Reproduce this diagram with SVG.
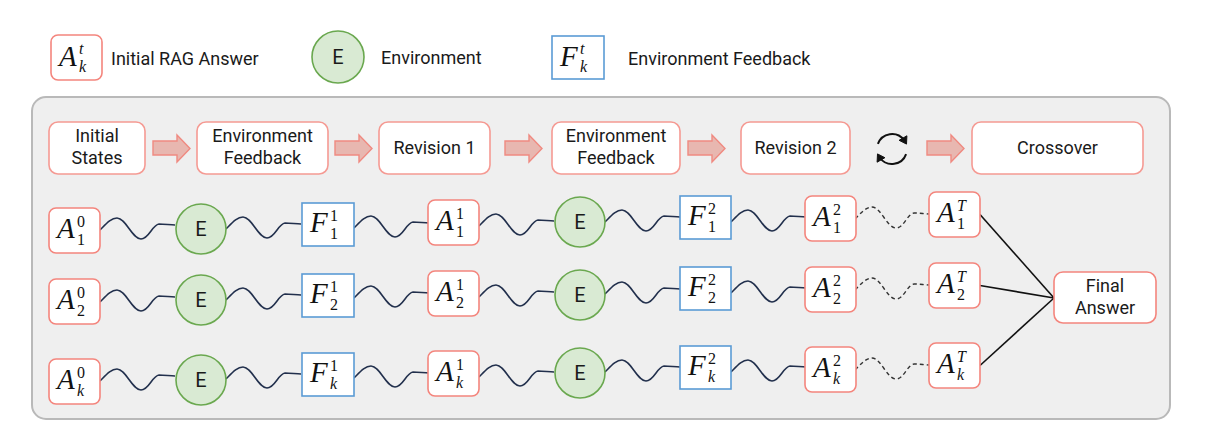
<svg xmlns="http://www.w3.org/2000/svg" xmlns:xlink="http://www.w3.org/1999/xlink" width="1206" height="442" viewBox="0 0 1206 442">
<style>
.bg{fill:#ffffff}
.panel{fill:#efefef;stroke:#b9b9b9;stroke-width:2}
.ans{fill:#ffffff;stroke:#f4857d;stroke-width:1.6}
.stage{fill:#ffffff;stroke:#f59a93;stroke-width:1.6}
.env{fill:#d9ead3;stroke:#6aa84f;stroke-width:1.6}
.fb{fill:#ffffff;stroke:#5b9bd5;stroke-width:1.6}
.lbl{font-family:Roboto,"Liberation Sans",sans-serif;font-size:18px;fill:#1a1a1a}
.big{font-size:20px}
.ctr{text-anchor:middle}
.mi{font-family:"Liberation Serif","DejaVu Serif",serif;font-style:italic;font-size:29px;fill:#111}
.sc{font-family:"Liberation Serif","DejaVu Serif",serif;font-size:16px;fill:#111}
.it{font-style:italic}
.wave{fill:none;stroke:#22304d;stroke-width:1.6}
.dash{fill:none;stroke:#333;stroke-width:1.4;stroke-dasharray:4 3}
.line{fill:none;stroke:#111;stroke-width:1.6}
.blk{fill:#e8b7b0;stroke:#f08a81;stroke-width:1.4}
.cyc{fill:none;stroke:#111;stroke-width:2}
.cyh{fill:#111;stroke:#111;stroke-width:1;stroke-linejoin:round}
</style>
<defs>
<polygon id="barrow" class="blk" points="0,6 24,6 24,0 37,13.5 24,27 24,20 0,20"/>
</defs>
<rect class="bg" x="0" y="0" width="1206" height="442"/>

<g id="legend">
<g id="legend-answer">
<rect class="ans" x="51" y="35" width="51" height="45" rx="7"/>
<text class="mi" x="59" y="66">A</text><text class="sc it" x="79" y="54">t</text><text class="sc it" x="79" y="72">k</text>
<text class="lbl" x="111" y="65">Initial RAG Answer</text>
</g>
<g id="legend-env">
<circle class="env" cx="338" cy="57" r="26"/>
<text class="lbl big ctr" x="338" y="64">E</text>
<text class="lbl" x="381" y="64">Environment</text>
</g>
<g id="legend-feedback">
<rect class="fb" x="552" y="36" width="52" height="43"/>
<text class="mi" x="560" y="66">F</text><text class="sc it" x="580" y="54">t</text><text class="sc it" x="580" y="72">k</text>
<text class="lbl" x="628" y="65">Environment Feedback</text>
</g>
</g>

<rect id="panel" class="panel" x="32" y="97" width="1138" height="322" rx="14"/>

<g id="stages">
<g id="stage-initial"><rect class="stage" x="49" y="122" width="96" height="52" rx="9"/><text class="lbl ctr" x="97" y="142">Initial</text><text class="lbl ctr" x="97" y="164">States</text></g>
<g id="stage-feedback1"><rect class="stage" x="197" y="122" width="131" height="52" rx="9"/><text class="lbl ctr" x="262.5" y="142">Environment</text><text class="lbl ctr" x="262.5" y="164">Feedback</text></g>
<g id="stage-rev1"><rect class="stage" x="379" y="122" width="111" height="52" rx="9"/><text class="lbl ctr" x="434.5" y="154">Revision 1</text></g>
<g id="stage-feedback2"><rect class="stage" x="552" y="122" width="128" height="52" rx="9"/><text class="lbl ctr" x="616" y="142">Environment</text><text class="lbl ctr" x="616" y="164">Feedback</text></g>
<g id="stage-rev2"><rect class="stage" x="741" y="122" width="109" height="52" rx="9"/><text class="lbl ctr" x="795.5" y="154">Revision 2</text></g>
<g id="stage-crossover"><rect class="stage" x="972" y="122" width="171" height="52" rx="9"/><text class="lbl ctr" x="1057.5" y="154">Crossover</text></g>
<g id="cycle-icon">
<path class="cyc" d="M877.9,143.9 A15,15 0 0 1 904,140"/>
<polygon class="cyh" points="906.5,144.1 906.9,135.8 899.1,140.3"/>
<path class="cyc" d="M906.1,154.1 A15,15 0 0 1 880,158"/>
<polygon class="cyh" points="877.5,153.9 884.9,157.7 877.1,162.2"/>
</g>
</g>

<g id="stage-arrows">
<use xlink:href="#barrow" href="#barrow" transform="translate(153,135)"/>
<use xlink:href="#barrow" href="#barrow" transform="translate(335,135)"/>
<use xlink:href="#barrow" href="#barrow" transform="translate(505,135)"/>
<use xlink:href="#barrow" href="#barrow" transform="translate(688,135)"/>
<use xlink:href="#barrow" href="#barrow" transform="translate(927,135)"/>
</g>

<g id="connectors">
<path class="wave" d="M100,230 c6,-6 11,-12 17,-12 c9,0 15,21 24,21 c8,0 11,-14 18,-15 c6,0 11,1 16,1"/>
<path class="wave" d="M226,229 c6,-6 11,-12 17,-12 c9,0 15,21 24,21 c8,0 11,-14 18,-15 c6,0 11,1 16,1"/>
<path class="wave" d="M354,228 c6,-6 11,-12 17,-12 c9,0 15,21 24,21 c8,0 11,-14 18,-15 c6,0 11,1 16,1"/>
<path class="wave" d="M479,226 c6,-6 11,-12 17,-12 c9,0 15,21 24,21 c8,0 11,-14 18,-15 c6,0 11,1 16,1"/>
<path class="wave" d="M605,222 c6,-6 11,-12 17,-12 c9,0 15,21 24,21 c8,0 11,-14 18,-15 c6,0 11,1 16,1"/>
<path class="wave" d="M731,222 c6,-6 11,-12 17,-12 c9,0 15,21 24,21 c8,0 11,-14 18,-15 c6,0 11,1 16,1"/>
<path class="dash" d="M855,219 c6,-6 11,-12 17,-12 c9,0 15,21 24,21 c8,0 11,-14 18,-15 c6,0 11,1 16,1"/>

<path class="wave" d="M100,302 c6,-6 11,-12 17,-12 c9,0 15,21 24,21 c8,0 11,-14 18,-15 c6,0 11,1 16,1"/>
<path class="wave" d="M226,300 c6,-6 11,-12 17,-12 c9,0 15,21 24,21 c8,0 11,-14 18,-15 c6,0 11,1 16,1"/>
<path class="wave" d="M354,298 c6,-6 11,-12 17,-12 c9,0 15,21 24,21 c8,0 11,-14 18,-15 c6,0 11,1 16,1"/>
<path class="wave" d="M479,297 c6,-6 11,-12 17,-12 c9,0 15,21 24,21 c8,0 11,-14 18,-15 c6,0 11,1 16,1"/>
<path class="wave" d="M605,294 c6,-6 11,-12 17,-12 c9,0 15,21 24,21 c8,0 11,-14 18,-15 c6,0 11,1 16,1"/>
<path class="wave" d="M731,293 c6,-6 11,-12 17,-12 c9,0 15,21 24,21 c8,0 11,-14 18,-15 c6,0 11,1 16,1"/>
<path class="dash" d="M855,290 c6,-6 11,-12 17,-12 c9,0 15,21 24,21 c8,0 11,-14 18,-15 c6,0 11,1 16,1"/>

<path class="wave" d="M100,381 c6,-6 11,-12 17,-12 c9,0 15,21 24,21 c8,0 11,-14 18,-15 c6,0 11,1 16,1"/>
<path class="wave" d="M226,379 c6,-6 11,-12 17,-12 c9,0 15,21 24,21 c8,0 11,-14 18,-15 c6,0 11,1 16,1"/>
<path class="wave" d="M354,378 c6,-6 11,-12 17,-12 c9,0 15,21 24,21 c8,0 11,-14 18,-15 c6,0 11,1 16,1"/>
<path class="wave" d="M479,377 c6,-6 11,-12 17,-12 c9,0 15,21 24,21 c8,0 11,-14 18,-15 c6,0 11,1 16,1"/>
<path class="wave" d="M605,372 c6,-6 11,-12 17,-12 c9,0 15,21 24,21 c8,0 11,-14 18,-15 c6,0 11,1 16,1"/>
<path class="wave" d="M731,372 c6,-6 11,-12 17,-12 c9,0 15,21 24,21 c8,0 11,-14 18,-15 c6,0 11,1 16,1"/>
<path class="dash" d="M855,370 c6,-6 11,-12 17,-12 c9,0 15,21 24,21 c8,0 11,-14 18,-15 c6,0 11,1 16,1"/>

<path class="line" d="M980,214.5 L1054,298"/>
<path class="line" d="M980,285.5 L1054,298"/>
<path class="line" d="M980,365.5 L1054,298"/>
</g>

<g id="row1">
<g id="a1-0"><rect class="ans" x="49" y="208" width="51" height="45" rx="7"/><text class="mi" x="57" y="238">A</text><text class="sc" x="77" y="227">0</text><text class="sc" x="77" y="245">1</text></g>
<g id="e1-1"><circle class="env" cx="201" cy="229" r="25"/><text class="lbl big ctr" x="201" y="236">E</text></g>
<g id="f1-1"><rect class="fb" x="302" y="203" width="52" height="43"/><text class="mi" x="310" y="232">F</text><text class="sc" x="330" y="221">1</text><text class="sc" x="330" y="239">1</text></g>
<g id="a1-1"><rect class="ans" x="428" y="200" width="51" height="45" rx="7"/><text class="mi" x="436" y="230">A</text><text class="sc" x="456" y="219">1</text><text class="sc" x="456" y="237">1</text></g>
<g id="e1-2"><circle class="env" cx="580" cy="222" r="25"/><text class="lbl big ctr" x="580" y="229">E</text></g>
<g id="f1-2"><rect class="fb" x="680" y="196" width="51" height="43"/><text class="mi" x="688" y="225">F</text><text class="sc" x="708" y="214">2</text><text class="sc" x="708" y="232">1</text></g>
<g id="a1-2"><rect class="ans" x="805" y="196" width="51" height="45" rx="7"/><text class="mi" x="813" y="226">A</text><text class="sc" x="833" y="215">2</text><text class="sc" x="833" y="233">1</text></g>
<g id="a1-T"><rect class="ans" x="929" y="192" width="51" height="45" rx="7"/><text class="mi" x="937" y="222">A</text><text class="sc it" x="957" y="211">T</text><text class="sc" x="957" y="229">1</text></g>
</g>

<g id="row2">
<g id="a2-0"><rect class="ans" x="49" y="279" width="51" height="45" rx="7"/><text class="mi" x="57" y="309">A</text><text class="sc" x="77" y="298">0</text><text class="sc" x="77" y="316">2</text></g>
<g id="e2-1"><circle class="env" cx="201" cy="300" r="25"/><text class="lbl big ctr" x="201" y="307">E</text></g>
<g id="f2-1"><rect class="fb" x="302" y="274" width="52" height="43"/><text class="mi" x="310" y="303">F</text><text class="sc" x="330" y="292">1</text><text class="sc" x="330" y="310">2</text></g>
<g id="a2-1"><rect class="ans" x="428" y="271" width="51" height="45" rx="7"/><text class="mi" x="436" y="301">A</text><text class="sc" x="456" y="290">1</text><text class="sc" x="456" y="308">2</text></g>
<g id="e2-2"><circle class="env" cx="580" cy="295" r="25"/><text class="lbl big ctr" x="580" y="302">E</text></g>
<g id="f2-2"><rect class="fb" x="680" y="267" width="51" height="43"/><text class="mi" x="688" y="296">F</text><text class="sc" x="708" y="285">2</text><text class="sc" x="708" y="303">2</text></g>
<g id="a2-2"><rect class="ans" x="805" y="267" width="51" height="45" rx="7"/><text class="mi" x="813" y="297">A</text><text class="sc" x="833" y="286">2</text><text class="sc" x="833" y="304">2</text></g>
<g id="a2-T"><rect class="ans" x="929" y="263" width="51" height="45" rx="7"/><text class="mi" x="937" y="293">A</text><text class="sc it" x="957" y="282">T</text><text class="sc" x="957" y="300">2</text></g>
</g>

<g id="row3">
<g id="ak-0"><rect class="ans" x="49" y="359" width="51" height="45" rx="7"/><text class="mi" x="57" y="389">A</text><text class="sc" x="77" y="378">0</text><text class="sc it" x="77" y="396">k</text></g>
<g id="ek-1"><circle class="env" cx="201" cy="380" r="25"/><text class="lbl big ctr" x="201" y="387">E</text></g>
<g id="fk-1"><rect class="fb" x="302" y="353" width="52" height="43"/><text class="mi" x="310" y="382">F</text><text class="sc" x="330" y="371">1</text><text class="sc it" x="330" y="389">k</text></g>
<g id="ak-1"><rect class="ans" x="428" y="351" width="51" height="45" rx="7"/><text class="mi" x="436" y="381">A</text><text class="sc" x="456" y="370">1</text><text class="sc it" x="456" y="388">k</text></g>
<g id="ek-2"><circle class="env" cx="580" cy="373" r="25"/><text class="lbl big ctr" x="580" y="380">E</text></g>
<g id="fk-2"><rect class="fb" x="680" y="346" width="51" height="43"/><text class="mi" x="688" y="375">F</text><text class="sc" x="708" y="364">2</text><text class="sc it" x="708" y="382">k</text></g>
<g id="ak-2"><rect class="ans" x="805" y="347" width="51" height="45" rx="7"/><text class="mi" x="813" y="377">A</text><text class="sc" x="833" y="366">2</text><text class="sc it" x="833" y="384">k</text></g>
<g id="ak-T"><rect class="ans" x="929" y="343" width="51" height="45" rx="7"/><text class="mi" x="937" y="373">A</text><text class="sc it" x="957" y="362">T</text><text class="sc it" x="957" y="380">k</text></g>
</g>

<g id="final-answer">
<rect class="ans" x="1054" y="272" width="102" height="51" rx="9"/>
<text class="lbl ctr" x="1105" y="292">Final</text>
<text class="lbl ctr" x="1105" y="314">Answer</text>
</g>
</svg>
